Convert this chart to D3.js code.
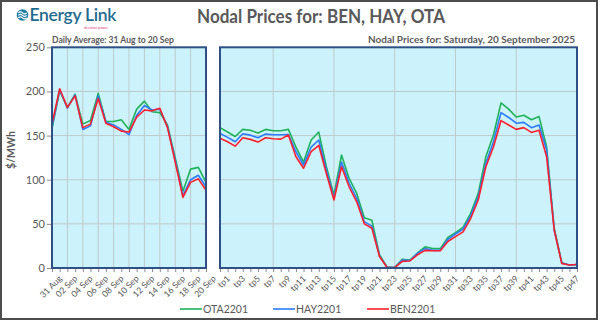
<!DOCTYPE html>
<html><head><meta charset="utf-8">
<script src="https://cdn.jsdelivr.net/npm/d3@7"></script>
<style>
body{margin:0;background:#fff;}
svg{display:block;}
text{font-family:Lato, "Open Sans", sans-serif;}
</style></head>
<body>
<svg id="c" width="600" height="322"></svg>
<script>
const days = ["31 Aug","01 Sep","02 Sep","03 Sep","04 Sep","05 Sep","06 Sep","07 Sep","08 Sep","09 Sep","10 Sep","11 Sep","12 Sep","13 Sep","14 Sep","15 Sep","16 Sep","17 Sep","18 Sep","19 Sep","20 Sep"];
const dailyOTA = [158,201,182,197,163,167,198,166,166,168,157,180,189,177,176,162,125,87,112,114,97];
const dailyHAY = [160,202,181,196,157,161,195,165,162,157,151,173,184,179,180,160,122,82,100,105,92];
const dailyBEN = [163,203,182,195,159,163,192,164,160,155,154,171,179,178,181,159,120,80,97,101,88];
const tps = d3.range(1,49).map(i=>"tp"+i);
const tpOTA = [159,154,149,157,156,153,157,155.5,155.5,157,137,120,145,154,115,82.6,128,101.5,84.5,57,54,15,1,0.5,10,9,17,24,22,22,34.7,40,46,62,84.5,126,150.6,187,180,171,173,168,171.7,137,45,6,3.4,4];
const tpHAY = [152.5,148,143,152,150.5,147.5,151.7,151,151,151.3,131.7,116.6,137,145,111,79,120,96,79,52.5,47.5,13.5,0.8,0.5,9,8.5,16.6,22,20,20,32.5,38.5,44,59,80.8,118.5,143,176,170.5,164,165,159,162,133.6,43,5.5,3.4,4];
const tpBEN = [147,143,138,147.5,145.7,142.6,147.5,146.4,146,150.6,126,113,131.7,139,107,77,114.7,92,75,50,45,13,0.5,0.5,7.5,8,15,20,19.6,19.6,30,35.5,41,56,77,114.7,137,167,162,157,159,153.6,156,126,43,5,3.4,4];
const yTicks = [0,50,100,150,200,250];
const series = [
  {name:"OTA2201", color:"#1fb25a", daily:dailyOTA, tp:tpOTA},
  {name:"HAY2201", color:"#2b7bff", daily:dailyHAY, tp:tpHAY},
  {name:"BEN2201", color:"#ff1f2a", daily:dailyBEN, tp:tpBEN}
];

const svg = d3.select("#c");
const grey = "#595959";
svg.append("rect").attr("x",1).attr("y",1).attr("width",596).attr("height",318)
  .attr("fill","#fff").attr("stroke","#4d4d4d").attr("stroke-width",2);

const logo = svg.append("g");
logo.append("circle").attr("cx",22.5).attr("cy",15).attr("r",5.8).attr("fill","#1e7da3");
[-2.2,0.3,2.8].forEach(o=>{
  logo.append("path").attr("d",`M18.3,${15+o} q2,-2 4.2,0 t4.2,0`).attr("fill","none").attr("stroke","#fff").attr("stroke-width",1.1);
});
logo.append("text").attr("x",29.5).attr("y",21).attr("font-size",17.5).attr("font-weight",600)
  .attr("fill","#1f6b8e").attr("font-family","'Open Sans',sans-serif").attr("letter-spacing",-0.3).text("Energy Link");
logo.append("text").attr("x",84).attr("y",28.5).attr("font-size",3.6).attr("fill","#e0447a").text("decision power");

svg.append("text").attr("x",197).attr("y",23).attr("font-size",18.5)
  .attr("font-weight",700).attr("fill",grey).attr("textLength",248).attr("lengthAdjust","spacingAndGlyphs")
  .text("Nodal Prices for: BEN, HAY, OTA");

const pTop = 47.3, pBottom = 268;
const y = d3.scaleLinear().domain([0,250]).range([pBottom, pTop]);

function panel(x0, x1, cats, key, gridEvery, gridOffset){
  const x = d3.scalePoint().domain(cats).range([x0, x1]);
  const g = svg.append("g");
  g.append("rect").attr("x",x0).attr("y",pTop).attr("width",x1-x0).attr("height",pBottom-pTop).attr("fill","#ccf3fc");
  g.selectAll(".hg").data(yTicks.slice(1,-1)).join("line")
    .attr("x1",x0).attr("x2",x1).attr("y1",d=>y(d)).attr("y2",d=>y(d)).attr("stroke","#bfc9cc").attr("stroke-width",1);
  g.selectAll(".vg").data(cats.filter((c,i)=>i>0 && i<cats.length-1 && i%gridEvery===gridOffset)).join("line")
    .attr("x1",d=>x(d)).attr("x2",d=>x(d)).attr("y1",pTop).attr("y2",pBottom).attr("stroke","#bfc9cc").attr("stroke-width",1);
  const line = d3.line().x((d,i)=>x(cats[i])).y(d=>y(d));
  series.forEach(s=>{
    g.append("path").attr("d",line(s[key])).attr("fill","none").attr("stroke",s.color).attr("stroke-width",1.6).attr("stroke-linejoin","round");
  });
  g.append("rect").attr("x",x0).attr("y",pTop).attr("width",x1-x0).attr("height",pBottom-pTop)
    .attr("fill","none").attr("stroke","#2f5085").attr("stroke-width",2);
  const ax = g.append("g").attr("transform",`translate(0,${pBottom+1})`)
    .call(d3.axisBottom(x).tickSize(3).tickFormat((d,i)=> i%2===0 ? d : ""));
  ax.select(".domain").remove();
  ax.selectAll("line").attr("stroke","#8c8c8c");
  ax.selectAll("text").attr("fill",grey).attr("font-size",8.6).attr("text-anchor","end")
    .attr("transform","translate(3,2) rotate(-45)").attr("dy","0.55em").attr("dx","-0.1em")
    .attr("font-family","'Open Sans',sans-serif");
  return x;
}
panel(52, 206, days, "daily", 2, 0);
panel(220, 577, tps, "tp", 8, 7);

const ya = svg.append("g").attr("transform","translate(51,0)").call(d3.axisLeft(y).tickValues(yTicks).tickSize(4));
ya.select(".domain").remove();
ya.selectAll("line").attr("stroke","#8c8c8c");
ya.selectAll("text").attr("fill",grey).attr("font-size",11).attr("x",-6).attr("font-family","'Open Sans',sans-serif");
svg.append("text").attr("transform","translate(15,150) rotate(-90)").attr("text-anchor","middle")
  .attr("font-size",10.5).attr("font-weight",700).attr("fill",grey).text("$/MWh");

svg.append("text").attr("x",52).attr("y",43).attr("font-size",8.6).attr("font-weight",700).attr("fill",grey)
  .attr("textLength",122).attr("lengthAdjust","spacingAndGlyphs")
  .text("Daily Average: 31 Aug to 20 Sep");
svg.append("text").attr("x",368).attr("y",43).attr("font-size",8.6).attr("font-weight",700).attr("fill",grey)
  .attr("textLength",207).attr("lengthAdjust","spacingAndGlyphs")
  .text("Nodal Prices for: Saturday, 20 September 2025");

const lx = [180, 273, 367];
series.forEach((s,i)=>{
  svg.append("line").attr("x1",lx[i]).attr("x2",lx[i]+22).attr("y1",309).attr("y2",309).attr("stroke",s.color).attr("stroke-width",1.6);
  svg.append("text").attr("x",lx[i]+23).attr("y",313).attr("font-size",10.5).attr("fill",grey)
    .attr("font-family","'Open Sans',sans-serif").text(s.name);
});
</script>
</body></html>
